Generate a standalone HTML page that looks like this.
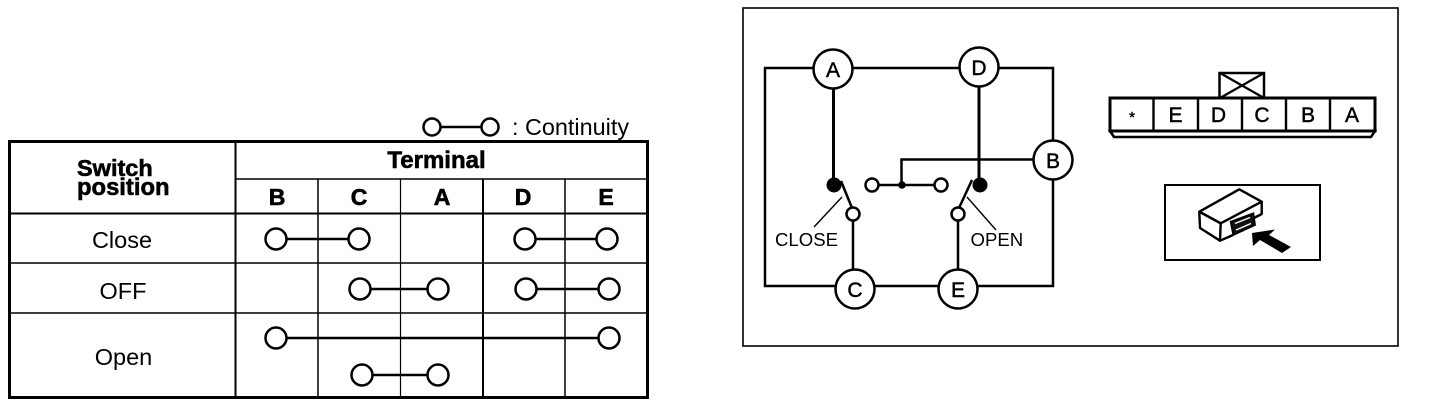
<!DOCTYPE html>
<html>
<head>
<meta charset="utf-8">
<style>
html,body{margin:0;padding:0;background:#fff;width:1440px;height:406px;overflow:hidden}
svg{display:block}
text{font-family:"Liberation Sans",sans-serif;fill:#000}
.b{font-weight:bold;stroke:#000;stroke-width:.6px}
.m{stroke:#000;stroke-width:.45px}
.h{fill:#fff;stroke:#000;stroke-width:2.5}
.l{stroke:#000;fill:none}
</style>
</head>
<body>
<svg width="1440" height="406" viewBox="0 0 1440 406" xmlns="http://www.w3.org/2000/svg">
<!-- legend -->
<g class="l" stroke-width="2.5">
<line x1="440" y1="127" x2="481" y2="127"/>
<circle class="h" cx="432" cy="127" r="8.5"/>
<circle class="h" cx="490" cy="127" r="8.5"/>
</g>
<text x="512" y="135" font-size="23.4">: Continuity</text>

<!-- table -->
<g class="l">
<rect x="9.5" y="141.5" width="638" height="256" stroke-width="3"/>
<line x1="235.5" y1="141" x2="235.5" y2="397" stroke-width="2"/>
<line x1="235" y1="179" x2="647" y2="179" stroke-width="1.5"/>
<line x1="9" y1="213.5" x2="647" y2="213.5" stroke-width="2"/>
<line x1="9" y1="263" x2="647" y2="263" stroke-width="1.5"/>
<line x1="9" y1="313" x2="647" y2="313" stroke-width="1.5"/>
<line x1="318" y1="179" x2="318" y2="397" stroke-width="1.5"/>
<line x1="400.5" y1="179" x2="400.5" y2="397" stroke-width="1.2"/>
<line x1="483" y1="179" x2="483" y2="397" stroke-width="2"/>
<line x1="565" y1="179" x2="565" y2="397" stroke-width="1.5"/>
</g>
<text class="b" x="77" y="176" font-size="23.5">Switch</text>
<text class="b" x="77" y="195" font-size="23.8">position</text>
<text class="b" x="436.5" y="168" font-size="24" text-anchor="middle">Terminal</text>
<g class="b" font-size="23" text-anchor="middle">
<text class="b" x="277" y="205" text-anchor="middle">B</text>
<text class="b" x="359" y="205" text-anchor="middle">C</text>
<text class="b" x="442" y="205" text-anchor="middle">A</text>
<text class="b" x="523" y="205" text-anchor="middle">D</text>
<text class="b" x="606" y="205" text-anchor="middle">E</text>
</g>
<g font-size="23.5" text-anchor="middle">
<text x="122" y="248">Close</text>
<text x="123" y="299">OFF</text>
<text x="123.5" y="365">Open</text>
</g>
<!-- continuity -->
<g class="l" stroke-width="2.5">
<line x1="276" y1="239" x2="359" y2="239"/>
<line x1="525" y1="239" x2="607" y2="239"/>
<line x1="360" y1="289" x2="438" y2="289"/>
<line x1="526" y1="289" x2="609" y2="289"/>
<line x1="276" y1="338" x2="609" y2="338"/>
<line x1="362" y1="375" x2="438" y2="375"/>
<circle class="h" cx="276" cy="239" r="10.5"/>
<circle class="h" cx="359" cy="239" r="10.5"/>
<circle class="h" cx="525" cy="239" r="10.5"/>
<circle class="h" cx="607" cy="239" r="10.5"/>
<circle class="h" cx="360" cy="289" r="10.5"/>
<circle class="h" cx="438" cy="289" r="10.5"/>
<circle class="h" cx="526" cy="289" r="10.5"/>
<circle class="h" cx="609" cy="289" r="10.5"/>
<circle class="h" cx="276" cy="338" r="10.5"/>
<circle class="h" cx="609" cy="338" r="10.5"/>
<circle class="h" cx="362" cy="375" r="10.5"/>
<circle class="h" cx="438" cy="375" r="10.5"/>
</g>

<!-- right frame -->
<rect class="l" x="743" y="8" width="655" height="338" stroke-width="1.6"/>

<!-- circuit -->
<g class="l" stroke-width="2.5">
<rect x="765" y="68" width="288" height="218"/>
<line x1="833.5" y1="69" x2="833.5" y2="185" stroke-width="3"/>
<line x1="979" y1="67" x2="979" y2="185" stroke-width="3"/>
<polyline points="1053,159.5 901.5,159.5 901.5,185"/>
<line x1="872" y1="185" x2="941" y2="185"/>
<line x1="853" y1="214" x2="853" y2="289"/>
<line x1="958" y1="214" x2="958" y2="289"/>
<line x1="841" y1="181" x2="852" y2="208"/>
<line x1="972" y1="180" x2="959" y2="208"/>
<line x1="842" y1="197" x2="814" y2="227" stroke-width="1.4"/>
<line x1="967" y1="197" x2="996" y2="230" stroke-width="1.4"/>
</g>
<circle cx="834" cy="185" r="7.5" fill="#000"/>
<circle cx="980" cy="185" r="7.5" fill="#000"/>
<circle cx="902" cy="185" r="3.8" fill="#000"/>
<g>
<circle class="h" cx="872" cy="185" r="6.5"/>
<circle class="h" cx="941" cy="185" r="6.5"/>
<circle class="h" cx="853" cy="214" r="6.5"/>
<circle class="h" cx="958" cy="214" r="6.5"/>
<circle class="h" cx="833" cy="69" r="19.5"/>
<circle class="h" cx="979" cy="67" r="19.5"/>
<circle class="h" cx="1053" cy="160" r="19.5"/>
<circle class="h" cx="855" cy="289" r="19.5"/>
<circle class="h" cx="958" cy="289" r="19.5"/>
</g>
<g font-size="21" text-anchor="middle">
<text class="m" x="833" y="77">A</text>
<text class="m" x="979" y="75">D</text>
<text class="m" x="1053" y="168">B</text>
<text class="m" x="855" y="297">C</text>
<text class="m" x="958" y="297">E</text>
</g>
<text x="775" y="246" font-size="18.6">CLOSE</text>
<text x="970.5" y="246" font-size="18.6">OPEN</text>

<!-- connector -->
<g class="l">
<rect x="1219.5" y="73" width="44.5" height="25" fill="#fff" stroke-width="2.5"/>
<line x1="1220" y1="73" x2="1264" y2="98" stroke-width="2.2"/>
<line x1="1264" y1="73" x2="1220" y2="98" stroke-width="2.2"/>
<polygon points="1110,131 1114,137 1371,137 1375,131" fill="#fff" stroke-width="2.5"/>
<rect x="1110" y="98" width="265" height="33" fill="#fff" stroke-width="3"/>
<line x1="1153.5" y1="98" x2="1153.5" y2="131" stroke-width="2.4"/>
<line x1="1198" y1="98" x2="1198" y2="131" stroke-width="2.4"/>
<line x1="1242" y1="98" x2="1242" y2="131" stroke-width="2.4"/>
<line x1="1286" y1="98" x2="1286" y2="131" stroke-width="2.4"/>
<line x1="1330" y1="98" x2="1330" y2="131" stroke-width="2.4"/>
</g>
<g font-size="21" text-anchor="middle">
<text class="m" x="1132" y="122" font-size="15">*</text>
<text class="m" x="1175.5" y="122">E</text>
<text class="m" x="1218.5" y="122">D</text>
<text class="m" x="1262" y="122">C</text>
<text class="m" x="1308" y="122">B</text>
<text class="m" x="1352" y="122">A</text>
</g>

<!-- connector view -->
<rect class="l" x="1165" y="185" width="155" height="75" stroke-width="2"/>
<g class="l" stroke-width="2.4" stroke-linejoin="round">
<polygon points="1199.3,211.7 1239.3,189.3 1261.7,201.7 1220.7,223.3"/>
<polygon points="1199.3,211.7 1200,228 1220,240.7 1220.7,223.3"/>
<polyline points="1220,240.7 1233,235"/>
<polyline points="1261.7,201.7 1261.7,214 1254,218"/>
</g>
<polygon points="1230.7,221.7 1253.3,213.3 1255,225 1233.3,235" fill="#111" stroke="#000" stroke-width="1.8"/>
<line x1="1235" y1="223.5" x2="1250" y2="217.5" stroke="#fff" stroke-width="1.4"/>
<line x1="1236" y1="230" x2="1251" y2="223.5" stroke="#fff" stroke-width="1.4"/>
<polygon points="1252,233 1275,229.5 1269,235 1291,247 1282,253 1260,240 1253,246" fill="#000"/>
</svg>
</body>
</html>
